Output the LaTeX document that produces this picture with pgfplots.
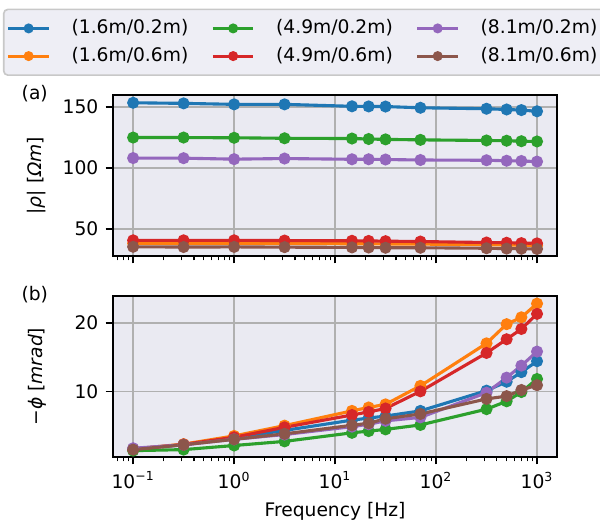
\documentclass[border=0pt]{standalone}
\usepackage{fontspec}
\setmainfont{DejaVu Sans}
\usepackage{pgfplots}
\usepackage{pgfplotstable}
\pgfplotsset{compat=1.18}
\definecolor{cB}{HTML}{1F77B4}
\definecolor{cO}{HTML}{FF7F0E}
\definecolor{cG}{HTML}{2CA02C}
\definecolor{cR}{HTML}{D62728}
\definecolor{cP}{HTML}{9467BD}
\definecolor{cN}{HTML}{8C564B}
\definecolor{bgc}{HTML}{EAEAF2}
\definecolor{legbg}{HTML}{EEEEF5}
\definecolor{gridc}{HTML}{B0B0B0}

\pgfplotstableread{
f      s1    s2   s3    s4   s5    s6
0.1    153.5 38.3 125.0 40.8 108.2 35.5
0.316  153.0 38.3 125.0 40.8 108.1 35.3
1      152.2 38.3 124.8 40.8 107.3 35.4
3.16   152.2 38.2 124.4 40.6 107.8 35.2
14.7   150.6 38.0 124.2 40.4 107.2 35.0
21.5   150.5 38.0 123.8 40.3 107.2 34.9
31.6   150.4 37.8 123.5 40.1 107.0 34.7
70     149.4 37.7 123.1 39.8 106.6 34.7
316    148.6 37.2 122.6 39.0 106.4 34.3
500    148.0 37.0 122.4 38.8 106.0 34.0
700    147.5 36.8 122.0 38.5 105.8 33.9
1000   146.5 36.6 121.8 38.3 105.3 33.7
}\rhodata

\pgfplotstableread{
f      s1    s2    s3    s4    s5    s6
0.1    1.60  1.60  1.35  1.55  1.70  1.50
0.316  2.20  2.30  1.50  2.25  2.20  2.20
1      3.20  3.50  2.10  3.30  3.00  3.00
3.16   4.30  5.00  2.70  4.75  3.70  3.80
14.7   5.80  7.15  3.95  6.55  4.85  5.05
21.5   6.10  7.65  4.20  7.00  5.20  5.35
31.6   6.40  8.10  4.45  7.50  5.70  6.00
70     7.15  10.8  5.10  10.0  6.20  6.70
316    10.1  17.0  7.40  15.6  9.80  8.90
500    11.4  19.8  8.55  17.6  12.0  9.30
700    12.8  20.8  9.90  19.1  13.75 10.2
1000   14.4  22.8  11.8  21.3  15.8  10.9
}\phidata

\pgfplotsset{
  mystyle/.style={
    scale only axis,
    width=214pt, height=77.6pt,
    xmin=0.0631, xmax=1585,
    xtick={0.1,1,10,100,1000},
    minor xtick={0.07,0.08,0.09,0.2,0.3,0.4,0.5,0.6,0.7,0.8,0.9,2,3,4,5,6,7,8,9,20,30,40,50,60,70,80,90,200,300,400,500,600,700,800,900},
    axis background/.style={fill=bgc},
    axis line style={black, line width=1pt},
    grid=major,
    major grid style={gridc, line width=0.8pt},
    tick align=outside,
    xtick pos=left, ytick pos=left,
    major tick length=3.5pt, minor tick length=2pt,
    every tick/.style={black, line width=0.8pt},
    minor tick style={black, line width=0.6pt},
    yticklabel style={/pgf/number format/assume math mode=true},
    tick label style={font=\fontsize{9}{11}\selectfont},
    label style={font=\fontsize{9}{11}\selectfont},
    every axis plot/.append style={line width=1.5pt, mark=*, mark size=2.5pt},
  },
}

\begin{document}
\begin{tikzpicture}
\useasboundingbox (-54.4pt,-204.8pt) rectangle (234.6pt,45.8pt);
\begin{semilogxaxis}[mystyle,
  at={(0pt,0pt)}, anchor=north west,
  ymin=27.8, ymax=159.8,
  ytick={50,100,150},
  xticklabels={},
  ylabel={|\textit{ρ}| [\textit{Ωm}]},
  ylabel style={at={(axis description cs:-0.171,0.5)}, anchor=center},
  legend columns=3,
  legend cell align=left,
  legend image code/.code={\draw[mark repeat=2,mark phase=2,mark size=2pt] plot coordinates {(0pt,0pt) (9.75pt,0pt) (19.5pt,0pt)};},
  legend style={at={(axis description cs:-0.2477,1.537)}, anchor=north west,
    fill=legbg, draw=gridc!70, rounded corners=2pt, line width=0.8pt,
    font=\fontsize{9}{11}\selectfont,
    /tikz/every odd column/.append style={column sep=8.2pt},
    /tikz/every even column/.append style={column sep=9.1pt},
    row sep=1pt, inner xsep=1.5pt, inner ysep=3pt},
  clip=false,
]
\addlegendimage{cB, mark options={fill=cB, line width=0.8pt}}\addlegendentry{(1.6m/0.2m)}
\addlegendimage{cG, mark options={fill=cG, line width=0.8pt}}\addlegendentry{(4.9m/0.2m)}
\addlegendimage{cP, mark options={fill=cP, line width=0.8pt}}\addlegendentry{(8.1m/0.2m)}
\addlegendimage{cO, mark options={fill=cO, line width=0.8pt}}\addlegendentry{(1.6m/0.6m)}
\addlegendimage{cR, mark options={fill=cR, line width=0.8pt}}\addlegendentry{(4.9m/0.6m)}
\addlegendimage{cN, mark options={fill=cN, line width=0.8pt}}\addlegendentry{(8.1m/0.6m)}
\addplot[cB, mark options={fill=cB, line width=0.8pt}, forget plot] table[x=f,y=s1]{\rhodata};
\addplot[cO, mark options={fill=cO, line width=0.8pt}, forget plot] table[x=f,y=s2]{\rhodata};
\addplot[cG, mark options={fill=cG, line width=0.8pt}, forget plot] table[x=f,y=s3]{\rhodata};
\addplot[cR, mark options={fill=cR, line width=0.8pt}, forget plot] table[x=f,y=s4]{\rhodata};
\addplot[cP, mark options={fill=cP, line width=0.8pt}, forget plot] table[x=f,y=s5]{\rhodata};
\addplot[cN, mark options={fill=cN, line width=0.8pt}, forget plot] table[x=f,y=s6]{\rhodata};
\node[font=\fontsize{9}{11}\selectfont] at (axis description cs:-0.176,1.01) {(a)};
\end{semilogxaxis}
\begin{semilogxaxis}[mystyle,
  at={(0pt,-96.8pt)}, anchor=north west,
  ymin=0.4, ymax=23.9,
  ytick={10,20},
  xticklabels={10\textsuperscript{−1},10\textsuperscript{0},10\textsuperscript{1},10\textsuperscript{2},10\textsuperscript{3}},
  ylabel={−\textit{ϕ} [\textit{mrad}]},
  ylabel style={at={(axis description cs:-0.171,0.5)}, anchor=center},
  xlabel={Frequency [Hz]},
  xlabel style={at={(axis description cs:0.5,-0.335)}, anchor=center},
  clip=false,
]
\addplot[cB, mark options={fill=cB, line width=0.8pt}] table[x=f,y=s1]{\phidata};
\addplot[cO, mark options={fill=cO, line width=0.8pt}] table[x=f,y=s2]{\phidata};
\addplot[cG, mark options={fill=cG, line width=0.8pt}] table[x=f,y=s3]{\phidata};
\addplot[cR, mark options={fill=cR, line width=0.8pt}] table[x=f,y=s4]{\phidata};
\addplot[cP, mark options={fill=cP, line width=0.8pt}] table[x=f,y=s5]{\phidata};
\addplot[cN, mark options={fill=cN, line width=0.8pt}] table[x=f,y=s6]{\phidata};
\node[font=\fontsize{9}{11}\selectfont] at (axis description cs:-0.176,1.01) {(b)};
\end{semilogxaxis}
\end{tikzpicture}
\end{document}
